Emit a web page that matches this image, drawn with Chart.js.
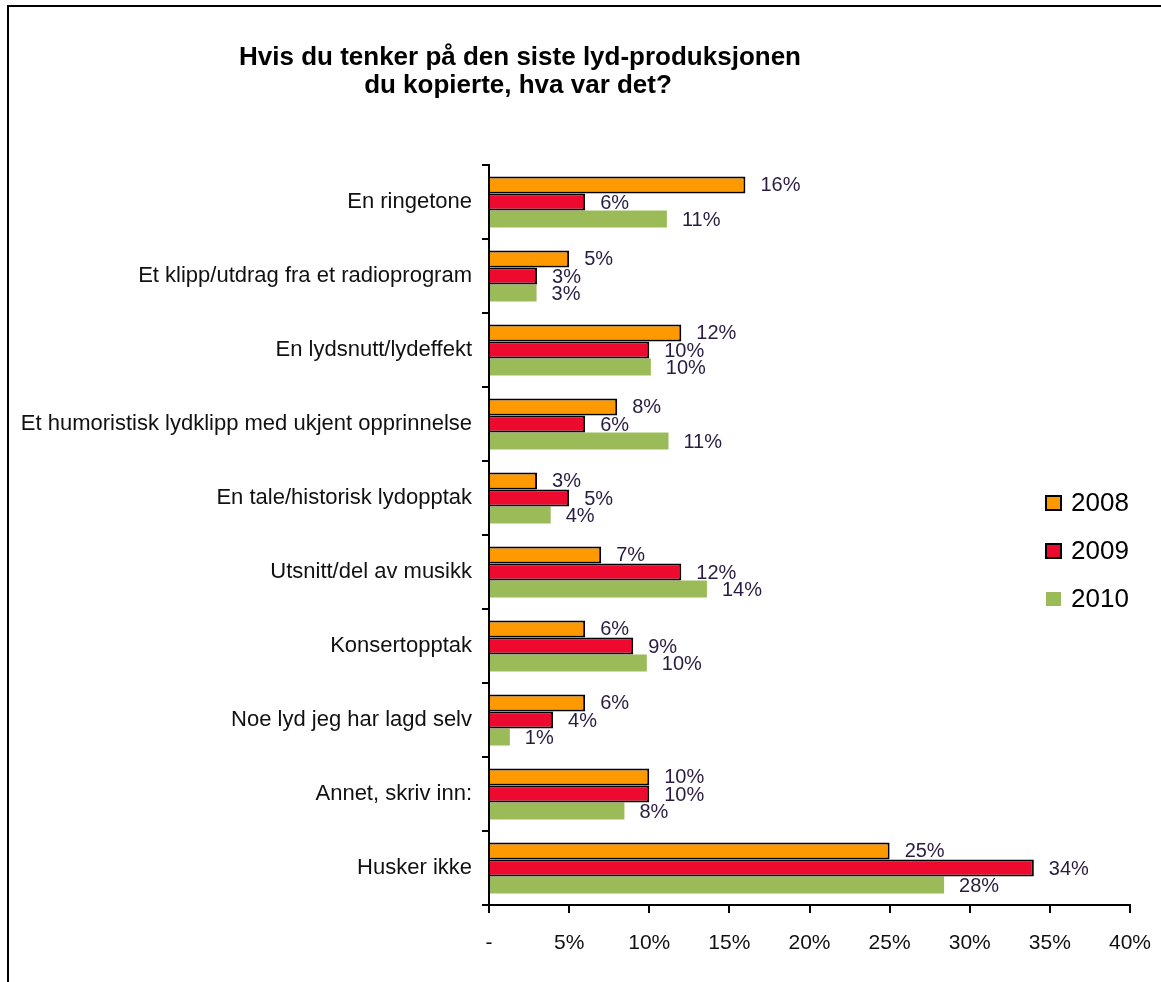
<!DOCTYPE html>
<html>
<head>
<meta charset="utf-8">
<script src="https://cdn.jsdelivr.net/npm/chart.js@4"></script>
<style>
  body { margin: 0; background: #fff; }
  #wrap { position: relative; width: 1161px; height: 982px; overflow: hidden; }
  #frame { position: absolute; left: 7px; top: 5px; width: 1170px; height: 1000px; border: 2px solid #000; box-sizing: border-box; }
  #box { position: absolute; left: 0; top: 0; width: 1161px; height: 982px; }
</style>
</head>
<body>
<div id="wrap">
  <div id="frame"></div>
  <div id="box"><canvas id="myChart"></canvas></div>
</div>
<script>
const categories = [
  "En ringetone",
  "Et klipp/utdrag fra et radioprogram",
  "En lydsnutt/lydeffekt",
  "Et humoristisk lydklipp med ukjent opprinnelse",
  "En tale/historisk lydopptak",
  "Utsnitt/del av musikk",
  "Konsertopptak",
  "Noe lyd jeg har lagd selv",
  "Annet, skriv inn:",
  "Husker ikke",
];
const years = ["2008", "2009", "2010"];
const values2008 = [16, 5, 12, 8, 3, 7, 6, 6, 10, 25];
const values2009 = [6, 3, 10, 6, 5, 12, 9, 4, 10, 34];
const values2010 = [11.1, 2.97, 10.1, 11.2, 3.85, 13.6, 9.85, 1.3, 8.45, 28.4];
const titleLines = ["Hvis du tenker på den siste lyd-produksjonen", "du kopierte, hva var det?"];

const FONT = "'Liberation Sans', Arial, sans-serif";
const colors = ["#FF9900", "#EE0A2E", "#9BBB59"];

// data labels + title + legend drawn by hand
const extras = {
  id: "extras",
  afterDatasetsDraw(chart) {
    const ctx = chart.ctx;
    ctx.save();
    ctx.font = "20px " + FONT;
    ctx.fillStyle = "#2a1c40";
    ctx.textAlign = "left";
    ctx.textBaseline = "middle";
    chart.data.datasets.forEach((ds, i) => {
      chart.getDatasetMeta(i).data.forEach((bar, j) => {
        ctx.fillText(Math.round(ds.data[j]) + "%", bar.x + 15, bar.y + 1);
      });
    });
    ctx.restore();
  },
  afterDraw(chart) {
    const ctx = chart.ctx;
    ctx.save();
    ctx.fillStyle = "#000";
    ctx.font = "bold 26px " + FONT;
    ctx.textAlign = "center";
    ctx.textBaseline = "middle";
    ctx.fillText(titleLines[0], 520, 58);
    ctx.fillText(titleLines[1], 518, 86);

    ctx.font = "26px " + FONT;
    ctx.textAlign = "left";
    const rows = [503, 551, 599];
    chart.data.datasets.forEach((ds, i) => {
      const y = rows[i];
      ctx.fillStyle = ds.backgroundColor;
      ctx.fillRect(1046, y - 7, 15, 14);
      if (ds.borderWidth) {
        ctx.strokeStyle = "#000";
        ctx.lineWidth = 2;
        ctx.strokeRect(1046, y - 7, 15, 14);
      }
      ctx.fillStyle = "#000";
      ctx.fillText(ds.label, 1071, y + 1);
    });
    ctx.restore();
  },
};

const data = {
  labels: categories,
  datasets: [
    { label: years[0], data: values2008, backgroundColor: colors[0], borderColor: "#000", borderWidth: 2 },
    { label: years[1], data: values2009, backgroundColor: colors[1], borderColor: "#000", borderWidth: 2 },
    { label: years[2], data: values2010, backgroundColor: colors[2], borderWidth: 0 },
  ],
};

const config = {
  type: "bar",
  data: data,
  plugins: [extras],
  options: {
    indexAxis: "y",
    responsive: true,
    maintainAspectRatio: false,
    animation: false,
    layout: { padding: { top: 165, right: 31, left: 0, bottom: 0 } },
    datasets: { bar: { categoryPercentage: 0.69, barPercentage: 1.0 } },
    plugins: {
      legend: { display: false },
      title: { display: false },
      tooltip: { enabled: false },
    },
    scales: {
      x: {
        min: 0,
        max: 40,
        afterFit: (scale) => {
          scale.height = 77;
          scale.paddingLeft = 0;
          scale.paddingRight = 0;
        },
        ticks: {
          stepSize: 5,
          color: "#111",
          padding: 18,
          font: { family: FONT, size: 21 },
          callback: (v) => (v === 0 ? "-" : v + "%"),
        },
        grid: { drawOnChartArea: false, color: "#000", tickLength: 8, lineWidth: 2 },
        border: { color: "#000", width: 2 },
      },
      y: {
        afterFit: (scale) => { scale.width = 489; },
        ticks: {
          color: "#111",
          padding: 10,
          font: { family: FONT, size: 22 },
        },
        grid: { drawOnChartArea: false, color: "#000", tickLength: 7, lineWidth: 2 },
        border: { color: "#000", width: 2 },
      },
    },
  },
};
const myChart = new Chart(document.getElementById("myChart"), config);
</script>
</body>
</html>
